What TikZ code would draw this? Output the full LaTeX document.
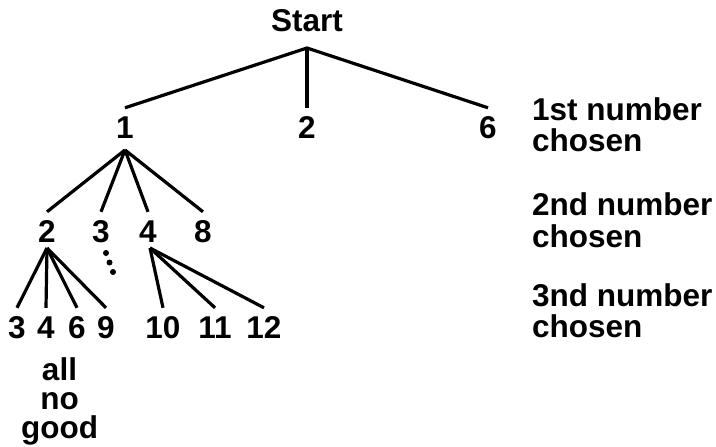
\documentclass[tikz,border=0pt]{standalone}
\usepackage{fontspec}
\setmainfont{Liberation Sans}
\begin{document}
\begin{tikzpicture}[x=1pt,y=-1pt,
  lab/.style={font=\fontsize{31.5}{32}\selectfont\bfseries, inner sep=0pt, anchor=base},
  num/.style={lab, text height=20pt, text depth=0pt, inner ysep=10pt, inner xsep=0pt},
  side/.style={lab, anchor=base west},
  edge/.style={line width=3.2pt}]
\path[use as bounding box] (0,0) rectangle (716,447);
% root
\node[lab] (start) at (307,31) {Start};
\coordinate (sj) at ([yshift=-17pt]start.base);
% level 1
\node[num] (a1) at (125,138) {1};
\node[num] (a2) at (307,138) {2};
\node[num] (a3) at (488,138) {6};
\draw[edge] (a1.north) -- (sj) -- (a3.north);
\draw[edge] (sj) -- (a2.north);
\coordinate (aj) at ([yshift=-12pt]a1.base);
% level 2
\node[num] (b1) at (47,242) {2};
\node[num] (b2) at (101,242) {3};
\node[num] (b3) at (148,242) {4};
\node[num] (b4) at (203,242) {8};
\foreach \n in {b1,b2,b3,b4} \draw[edge] (aj) -- (\n.north);
\coordinate (bj2) at ([yshift=-6pt]b1.base);
\coordinate (bj4) at ([xshift=2pt,yshift=-6pt]b3.base);
% dots under 3
\fill (106,253) circle (3pt);
\fill (109.5,262.5) circle (3pt);
\fill (113,272) circle (3pt);
% level 3
\node[num] (c1) at (17,338) {3};
\node[num] (c2) at (46,338) {4};
\node[num] (c3) at (77,338) {6};
\node[num] (c4) at (106,338) {9};
\node[num] (c5) at (163,338) {10};
\node[num] (c6) at (215,338) {11};
\node[num] (c7) at (264,338) {12};
\foreach \n in {c1,c2,c3,c4} \draw[edge] (bj2) -- (\n.north);
\foreach \n in {c5,c6,c7} \draw[edge] (bj4) -- (\n.north);
% note
\node[lab, font=\fontsize{31.5}{29}\selectfont\bfseries, align=center, anchor=north] (ng) at (59.5,357.5) {all\\no\\good};
% side labels
\node[side] (r1a) at (532,120) {1st number};
\node[side] (r1b) at (532,151) {chosen};
\node[side] (r2a) at (532,215) {2nd number};
\node[side] (r2b) at (532,247) {chosen};
\node[side] (r3a) at (532,306) {3nd number};
\node[side] (r3b) at (532,337) {chosen};
\end{tikzpicture}
\end{document}
